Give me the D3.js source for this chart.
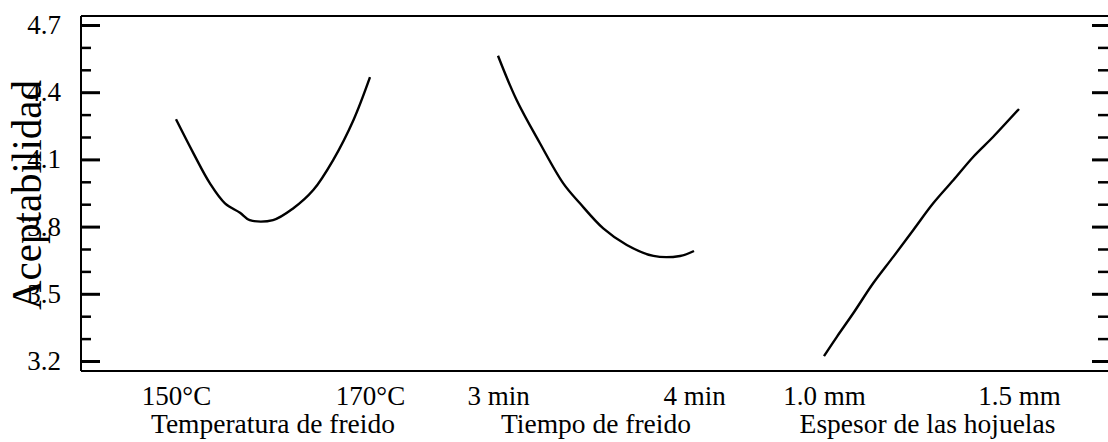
<!DOCTYPE html>
<html><head><meta charset="utf-8">
<script src="https://cdn.jsdelivr.net/npm/d3@7"></script>
<style>body{margin:0;background:#fff}svg{display:block}</style>
</head><body>
<svg id="c" width="1108" height="442"></svg>
<script>
// ---- data ----
const yTicksMajor = [3.2, 3.5, 3.8, 4.1, 4.4, 4.7];
const yTicksMinor = [3.3, 3.4, 3.6, 3.7, 3.9, 4.0, 4.2, 4.3, 4.5, 4.6];
const yLabel = "Aceptabilidad";

const tempX = [150, 151.8, 153.5, 155.05, 156.6, 157.6, 160.0, 162.1, 164.15, 166.2, 168.3, 170];
const tempY = [4.279, 4.127, 3.993, 3.904, 3.862, 3.829, 3.829, 3.882, 3.963, 4.097, 4.276, 4.467];

const timeX = [3.0, 3.095, 3.214, 3.333, 3.418, 3.537, 3.657, 3.793, 3.929, 4.0];
const timeY = [4.563, 4.365, 4.172, 3.993, 3.904, 3.792, 3.718, 3.669, 3.669, 3.691];

const thickX = [1.0, 1.033, 1.075, 1.126, 1.178, 1.229, 1.28, 1.332, 1.383, 1.434, 1.5];
const thickY = [3.222, 3.308, 3.413, 3.547, 3.666, 3.785, 3.904, 4.008, 4.112, 4.201, 4.325];

const panelDomains = [[150, 170], [3, 4], [1.0, 1.5]];
const panelTickLabels = [["150°C", "170°C"], ["3 min", "4 min"], ["1.0 mm", "1.5 mm"]];
const panelTitles = ["Temperatura de freido", "Tiempo de freido", "Espesor de las hojuelas"];
const panelSeries = [[tempX, tempY], [timeX, timeY], [thickX, thickY]];

// ---- layout ----
const svg = d3.select("#c");
const font = "'Liberation Serif','Times New Roman',serif";
const frameL = 81, frameT = 16, frameB = 371, frameR = 1108;
const y = d3.scaleLinear().domain([3.2, 4.7]).range([361, 25]);
const panelStarts = [176, 498, 824];
const panelWidths = [194, 196, 195];

// frame
svg.append("line").attr("x1", frameL).attr("x2", frameR).attr("y1", frameT).attr("y2", frameT)
  .attr("stroke", "#000").attr("stroke-width", 2);
svg.append("line").attr("x1", frameL).attr("x2", frameR).attr("y1", frameB).attr("y2", frameB)
  .attr("stroke", "#000").attr("stroke-width", 2);
svg.append("line").attr("x1", frameL).attr("x2", frameL).attr("y1", frameT).attr("y2", frameB)
  .attr("stroke", "#000").attr("stroke-width", 2);

// left axis
const leftMajor = d3.axisRight(y).tickValues(yTicksMajor).tickSize(19).tickFormat("");
const gL = svg.append("g").attr("transform", `translate(${frameL},0)`).call(leftMajor);
gL.select(".domain").remove();
gL.selectAll("line").attr("stroke-width", 3);
const leftMinor = d3.axisRight(y).tickValues(yTicksMinor).tickSize(10).tickFormat("");
const gLm = svg.append("g").attr("transform", `translate(${frameL},0)`).call(leftMinor);
gLm.select(".domain").remove();
gLm.selectAll("line").attr("stroke-width", 2.5);

// right ticks
const rightMajor = d3.axisLeft(y).tickValues(yTicksMajor).tickSize(16).tickFormat("");
const gR = svg.append("g").attr("transform", `translate(${frameR},0)`).call(rightMajor);
gR.select(".domain").remove();
gR.selectAll("line").attr("stroke-width", 3);
const rightMinor = d3.axisLeft(y).tickValues(yTicksMinor).tickSize(10).tickFormat("");
const gRm = svg.append("g").attr("transform", `translate(${frameR},0)`).call(rightMinor);
gRm.select(".domain").remove();
gRm.selectAll("line").attr("stroke-width", 2.5);

// y tick labels
svg.append("g").selectAll("text").data(yTicksMajor).join("text")
  .attr("x", 61).attr("y", d => y(d) + 9)
  .attr("text-anchor", "end").attr("font-family", font).attr("font-size", 27)
  .text(d => d.toFixed(1));

// y title
svg.append("text")
  .attr("transform", "translate(41,195) rotate(-90)")
  .attr("text-anchor", "middle").attr("font-family", font).attr("font-size", 43)
  .attr("textLength", 230).attr("lengthAdjust", "spacingAndGlyphs")
  .text(yLabel);

// panels
panelDomains.forEach((dom, i) => {
  const x = d3.scaleLinear().domain(dom).range([panelStarts[i], panelStarts[i] + panelWidths[i]]);
  const [xs, ys] = panelSeries[i];
  const pts = xs.map((v, k) => [v, ys[k]]);
  const line = d3.line().x(d => x(d[0])).y(d => y(d[1])).curve(d3.curveCatmullRom.alpha(0.5));
  svg.append("path").datum(pts).attr("d", line)
    .attr("fill", "none").attr("stroke", "#000").attr("stroke-width", 2.4).attr("stroke-linejoin", "round");

  const xa = d3.axisBottom(x).tickValues(dom).tickSize(0)
    .tickFormat((d, k) => panelTickLabels[i][k]);
  const g = svg.append("g").attr("transform", `translate(0,${frameB})`).call(xa);
  g.select(".domain").remove();
  g.selectAll("text").attr("font-family", font).attr("font-size", 27).attr("fill", "#000")
    .attr("dy", 0).attr("y", 34);

  svg.append("text")
    .attr("x", x((dom[0] + dom[1]) / 2) + (i === 2 ? 6 : 0)).attr("y", 433)
    .attr("text-anchor", "middle").attr("font-family", font).attr("font-size", 27.5)
    .text(panelTitles[i]);
});
</script>
</body></html>
